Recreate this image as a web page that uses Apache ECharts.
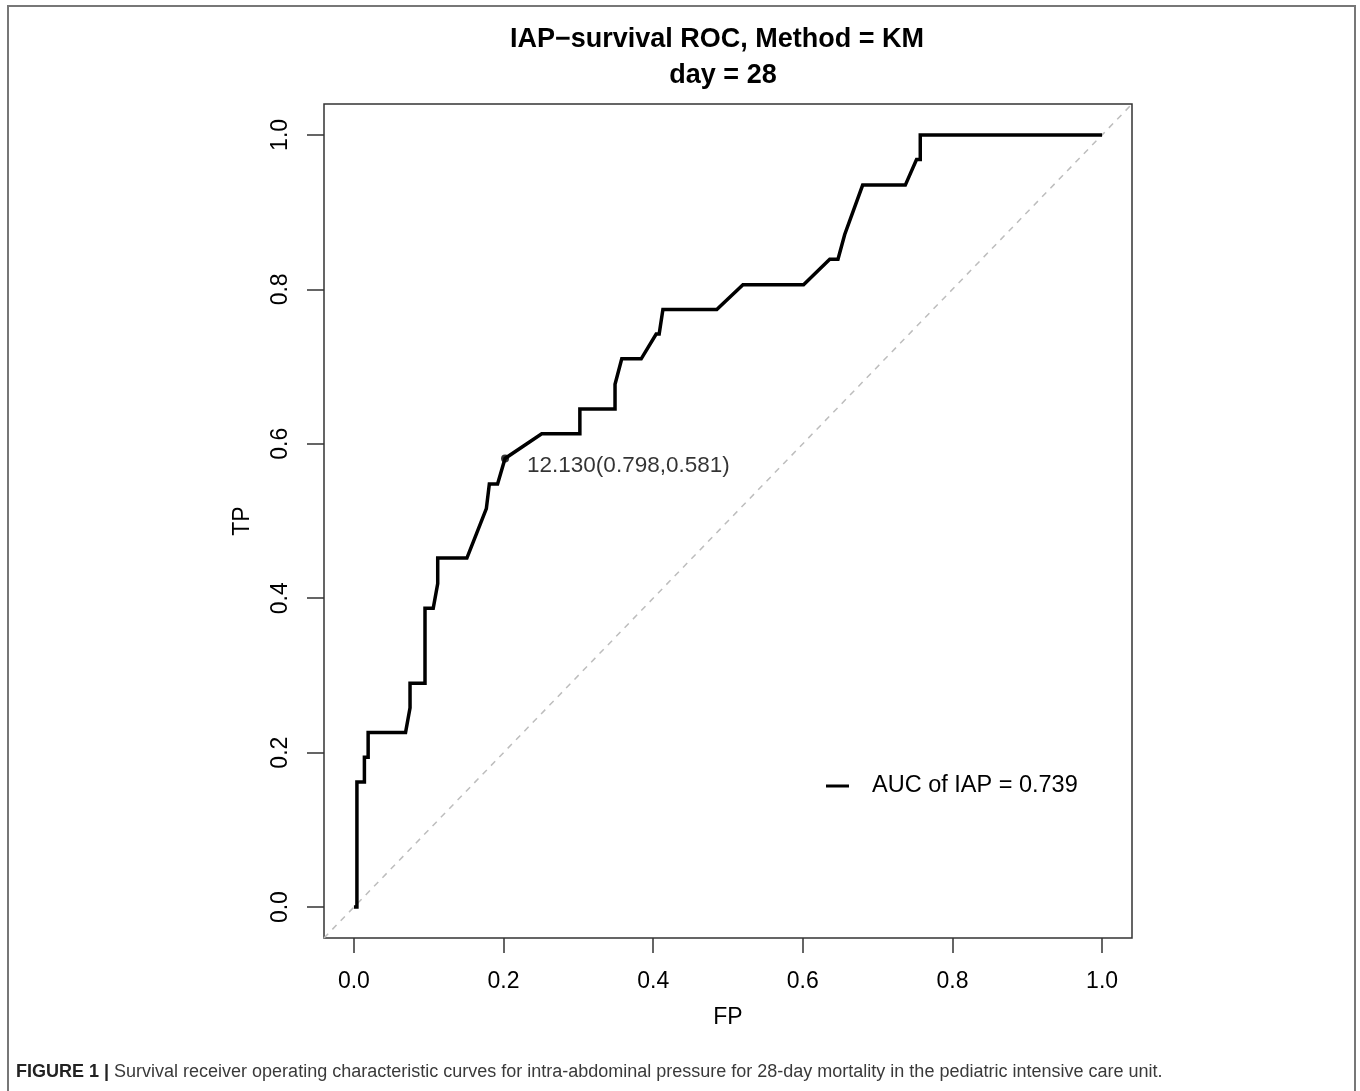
<!DOCTYPE html>
<html>
<head>
<meta charset="utf-8">
<script src="https://cdn.jsdelivr.net/npm/echarts@6.0.0/dist/echarts.min.js"></script>
<style>
  html, body { margin: 0; padding: 0; background: #fff; }
  #main { width: 1360px; height: 1091px; }
</style>
</head>
<body>
<div id="main"></div>
<script>
// ROC curve points (false positive / true positive)
var fpValues = [0, 0.004, 0.004, 0.014, 0.014, 0.019, 0.019, 0.069, 0.075, 0.075,
    0.095, 0.095, 0.106, 0.112, 0.112, 0.151, 0.164, 0.177, 0.181, 0.192,
    0.202, 0.251, 0.302, 0.302, 0.349, 0.349, 0.358, 0.384, 0.404, 0.408,
    0.413, 0.485, 0.520, 0.601, 0.636, 0.647, 0.656, 0.680, 0.737, 0.752,
    0.757, 0.757, 1.0];
var tpValues = [0, 0, 0.162, 0.162, 0.194, 0.194, 0.226, 0.226, 0.258, 0.290,
    0.290, 0.387, 0.387, 0.419, 0.452, 0.452, 0.484, 0.516, 0.548, 0.548,
    0.581, 0.613, 0.613, 0.645, 0.645, 0.677, 0.710, 0.710, 0.742, 0.742,
    0.774, 0.774, 0.806, 0.806, 0.839, 0.839, 0.871, 0.935, 0.935, 0.968,
    0.968, 1.0, 1.0];

// cutoff point and reference diagonal
var cutPoint = [0.202, 0.581];
var cutLabel = '12.130(0.798,0.581)';
var diagEnds = [-0.04, 1.04];
var tickValues = [0, 0.2, 0.4, 0.6, 0.8, 1.0];
var aucName = 'AUC of IAP = 0.739';

var rocData = fpValues.map(function (v, i) { return [v, tpValues[i]]; });
var diagData = diagEnds.map(function (v) { return [v, v]; });

var font = 'Liberation Sans, Arial, Helvetica, sans-serif';
var chart = echarts.init(document.getElementById('main'));

chart.setOption({
    animation: false,
    backgroundColor: '#fff',
    title: [
        {
            text: 'IAP\u2212survival ROC, Method = KM',
            left: 712, top: 21, textAlign: 'center',
            textStyle: { fontFamily: font, fontSize: 27, fontWeight: 'bold', color: '#000' }
        },
        {
            text: 'day = 28',
            left: 718, top: 57, textAlign: 'center',
            textStyle: { fontFamily: font, fontSize: 27, fontWeight: 'bold', color: '#000' }
        }
    ],
    legend: {
        left: 821, top: 769,
        icon: 'rect', itemWidth: 23, itemHeight: 3,
        data: [aucName],
        textStyle: { fontFamily: font, fontSize: 23.5, color: '#000', padding: [0, 0, 0, 18] }
    },
    grid: {
        left: 324, top: 104, width: 808, height: 834,
        show: true, borderColor: '#333', borderWidth: 1.5
    },
    xAxis: {
        type: 'value', min: -0.04, max: 1.04,
        name: 'FP', nameLocation: 'middle', nameGap: 68,
        nameTextStyle: { fontFamily: font, fontSize: 23, color: '#000' },
        axisLine: { show: false, onZero: false },
        splitLine: { show: false },
        axisTick: { show: true, length: 15, inside: false, customValues: tickValues, lineStyle: { color: '#333', width: 1.5 } },
        axisLabel: {
            customValues: tickValues, margin: 32,
            fontFamily: font, fontSize: 23, color: '#000',
            formatter: function (v) { return v.toFixed(1); }
        }
    },
    yAxis: {
        type: 'value', min: -0.04, max: 1.04,
        name: 'TP', nameLocation: 'middle', nameGap: 70,
        nameTextStyle: { fontFamily: font, fontSize: 23, color: '#000' },
        axisLine: { show: false, onZero: false },
        splitLine: { show: false },
        axisTick: { show: true, length: 17, inside: false, customValues: tickValues, lineStyle: { color: '#333', width: 1.5 } },
        axisLabel: {
            customValues: tickValues, margin: 32, rotate: 90,
            fontFamily: font, fontSize: 23, color: '#000',
            formatter: function (v) { return v.toFixed(1); }
        }
    },
    series: [
        {
            name: 'diagonal',
            type: 'line',
            data: diagData,
            symbol: 'none',
            silent: true,
            lineStyle: { color: '#bdbdbd', width: 1.5, type: [6, 6] }
        },
        {
            name: aucName,
            type: 'line',
            data: rocData,
            symbol: 'none',
            itemStyle: { color: '#000' },
            lineStyle: { color: '#000', width: 3.5, join: 'miter' }
        },
        {
            name: 'cutoff',
            type: 'scatter',
            data: [cutPoint],
            symbolSize: 8,
            itemStyle: { color: '#000' },
            label: {
                show: true, position: 'right', distance: 18, offset: [0, 7],
                formatter: cutLabel,
                fontFamily: font, fontSize: 22.5, color: '#000'
            }
        }
    ],
    graphic: [
        {
            type: 'rect',
            shape: { x: 8, y: 6, width: 1347, height: 1095 },
            style: { fill: 'none', stroke: '#777', lineWidth: 2 },
            silent: true
        },
        {
            type: 'text',
            left: 16, top: 1063,
            style: {
                text: '{b|FIGURE 1 |} Survival receiver operating characteristic curves for intra-abdominal pressure for 28-day mortality in the pediatric intensive care unit.',
                font: '18px ' + font,
                fill: '#3a3a3a',
                rich: {
                    b: { fontFamily: font, fontSize: 18, fontWeight: 'bold', fill: '#222' }
                }
            }
        }
    ]
});
</script>
</body>
</html>
